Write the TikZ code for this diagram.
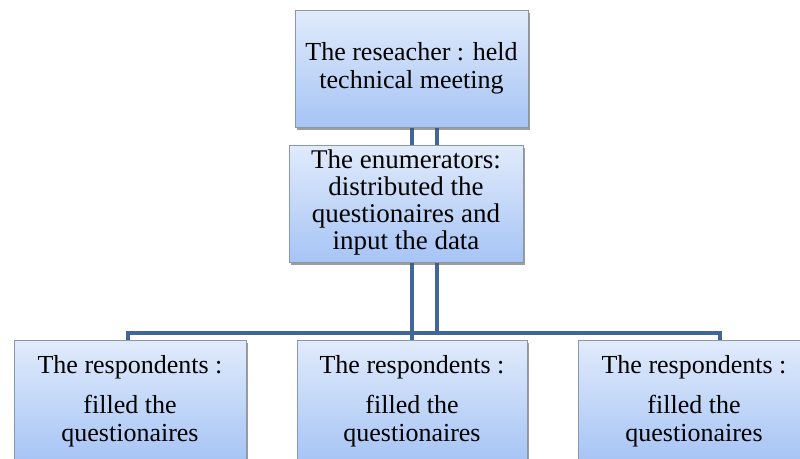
\documentclass[tikz,border=0pt]{standalone}
\usepackage{fontspec}
\setmainfont{Liberation Serif}
\usetikzlibrary{shadows,backgrounds}

\definecolor{boxtop}{HTML}{E1EBFB}
\definecolor{boxbottom}{HTML}{A6C4F5}
\definecolor{boxline}{HTML}{8A97A8}
\definecolor{linkblue}{HTML}{41679A}

\tikzset{
  stagebox/.style={draw=boxline, line width=0.8pt, top color=boxtop, bottom color=boxbottom,
    align=center, inner sep=0pt, drop shadow={shadow xshift=2pt, shadow yshift=-3pt, fill=black!70, opacity=0.55},
    font=\fontsize{26}{28}\selectfont},
  link/.style={draw=linkblue, line width=4pt}
}

\begin{document}
\begin{tikzpicture}[x=1pt,y=-1pt]
  \useasboundingbox (0,0) rectangle (800,458);
  \clip (0,0) rectangle (800,458);

  \node[stagebox, minimum width=233pt, minimum height=117pt] (researcher) at (411.5,68.5) {The reseacher : held\\technical meeting};
  \node[stagebox, minimum width=234pt, minimum height=117pt, text depth=8pt, font=\fontsize{27}{27}\selectfont] (enumerators) at (406,203.5) {The enumerators:\\distributed the\\questionaires and\\input the data};

  \node[stagebox, minimum width=232pt, minimum height=122pt] (resp1) at (130,401) {The respondents :\\[12pt]filled the\\questionaires};
  \node[stagebox, minimum width=230pt, minimum height=122pt] (resp2) at (412,401) {The respondents :\\[12pt]filled the\\questionaires};
  \node[stagebox, minimum width=232pt, minimum height=122pt] (resp3) at (694,401) {The respondents :\\[12pt]filled the\\questionaires};

  \coordinate (busleft) at (128,333);
  \coordinate (busright) at (720,333);
  \coordinate (busmid) at (437,333);

  \begin{scope}[on background layer]
    \draw[link] (researcher.south -| resp2.north) -- (resp2.north);
    \draw[link] (researcher.south -| busmid) -- (busmid);
    \draw[link, line cap=round] (busleft |- resp1.north) -- (busleft) -- (busright) -- (busright |- resp3.north);
  \end{scope}
\end{tikzpicture}
\end{document}
